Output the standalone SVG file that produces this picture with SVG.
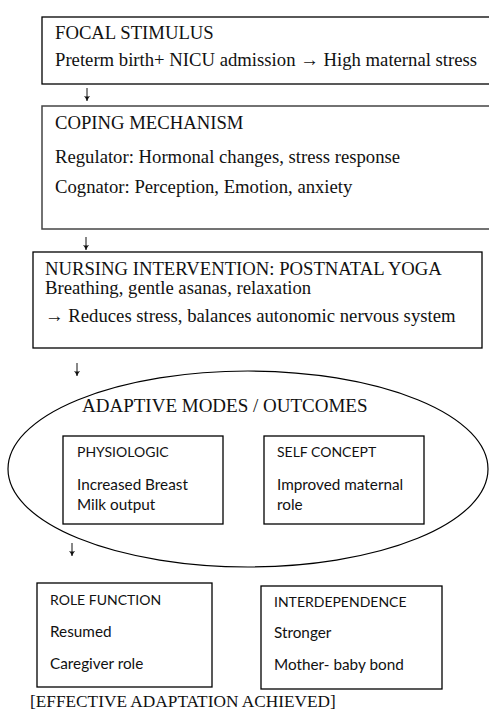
<svg xmlns="http://www.w3.org/2000/svg" width="489" height="716" viewBox="0 0 489 716">
  <style>
    .box { fill: #fff; stroke: #000; stroke-width: 1.3; }
    .box2 { fill: #fff; stroke: #444; stroke-width: 1.5; }
    .oval { fill: none; stroke: #000; stroke-width: 1.2; }
    .serif { font-family: "Liberation Serif", "Times New Roman", serif; font-size: 18.7px; fill: #111; }
    .title { font-size: 19px; }
    .small { font-size: 17.3px; }
    .head { font-family: Lato, "Liberation Sans", sans-serif; font-size: 14px; fill: #111; }
    .body { font-family: Lato, "Liberation Sans", sans-serif; font-size: 15.3px; fill: #111; }
    .flow { fill: none; stroke: #111; stroke-width: 1; marker-end: url(#tip); }
  </style>
  <defs>
    <!-- small barbed head, drawn pointing along +x so orient="auto" follows the line -->
    <marker id="tip" viewBox="0 0 5 7" refX="5" refY="3.5" markerWidth="5" markerHeight="7" markerUnits="userSpaceOnUse" orient="auto">
      <path d="M0 0.4 Q2.4 2.6 5 3.5 Q2.4 4.4 0 6.6 Q1.2 3.5 0 0.4 Z" fill="#111"/>
    </marker>
  </defs>
  <rect width="489" height="716" fill="#fff"/>

  <g id="focal-stimulus">
    <rect class="box" x="42" y="17" width="460" height="67"/>
    <text class="serif" x="55" y="39">FOCAL STIMULUS</text>
    <text class="serif" x="55" y="66">Preterm birth+ NICU admission → High maternal stress</text>
  </g>

  <g id="coping-mechanism">
    <rect class="box2" x="42" y="106" width="460" height="123"/>
    <text class="serif" x="55" y="129">COPING MECHANISM</text>
    <text class="serif" x="55" y="163">Regulator: Hormonal changes, stress response</text>
    <text class="serif" x="55" y="193">Cognator: Perception, Emotion, anxiety</text>
  </g>

  <g id="nursing-intervention">
    <rect class="box" x="33" y="252" width="449" height="96"/>
    <text class="serif" x="45" y="275">NURSING INTERVENTION: POSTNATAL YOGA</text>
    <text class="serif" x="45" y="294">Breathing, gentle asanas, relaxation</text>
    <text class="serif" x="45" y="322">→ Reduces stress, balances autonomic nervous system</text>
  </g>

  <g id="adaptive-modes">
    <ellipse class="oval" cx="248" cy="469" rx="240" ry="98"/>
    <text class="serif title" x="82" y="412">ADAPTIVE MODES / OUTCOMES</text>
  </g>

  <g id="physiologic">
    <rect class="box" x="63" y="436" width="160" height="88"/>
    <text class="head" x="77" y="457">PHYSIOLOGIC</text>
    <text class="body" x="77" y="490">Increased Breast</text>
    <text class="body" x="77" y="510">Milk output</text>
  </g>

  <g id="self-concept">
    <rect class="box" x="264" y="436" width="160" height="88"/>
    <text class="head" x="277" y="457">SELF CONCEPT</text>
    <text class="body" x="277" y="490">Improved maternal</text>
    <text class="body" x="277" y="510">role</text>
  </g>

  <g id="role-function">
    <rect class="box" x="37" y="583" width="175" height="104"/>
    <text class="head" x="50" y="605">ROLE FUNCTION</text>
    <text class="body" x="50" y="637">Resumed</text>
    <text class="body" x="50" y="669">Caregiver role</text>
  </g>

  <g id="interdependence">
    <rect class="box" x="261" y="586" width="181" height="103"/>
    <text class="head" x="274" y="607">INTERDEPENDENCE</text>
    <text class="body" x="274" y="638">Stronger</text>
    <text class="body" x="274" y="670">Mother- baby bond</text>
  </g>

  <g id="result">
    <text class="serif small" x="30" y="707">[EFFECTIVE ADAPTATION ACHIEVED]</text>
  </g>

  <g id="connectors">
    <path class="flow" d="M87 88 V101"/>
    <path class="flow" d="M86 237 V250"/>
    <path class="flow" d="M77 363 V376"/>
    <path class="flow" d="M72 543 V556"/>
  </g>
</svg>
